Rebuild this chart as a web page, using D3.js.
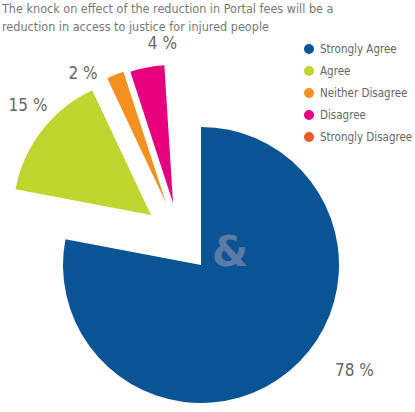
<!DOCTYPE html>
<html><head><meta charset="utf-8">
<script src="https://cdn.jsdelivr.net/npm/d3@7"></script>
<style>body{margin:0;background:#fff}</style>
</head><body><svg id="c" width="415" height="412"></svg>
<script>
const categories = ['Strongly Agree','Agree','Neither Disagree','Disagree','Strongly Disagree'];
const values = [78, 15, 2, 4, 0];
const colors = ['#0a5496','#c0d530','#f39020','#e6007e','#ea5a2a'];
const labels = ['78 %','15 %','2 %','4 %',''];
// explode offset for each slice, in px
const offsets = [[0,0],[-50,-50],[-35,-62],[-28,-62],[0,0]];
// label placement: radius and angle tweak (degrees)
const labelPos = [[186,-16],[165,4],[154,-11],[160,7]];

const svg = d3.select('#c');
const cx = 201, cy = 265, r = 138;
const font = '"DejaVu Sans Condensed", "DejaVu Sans"';

svg.append('text').attr('x',2).attr('y',13).attr('fill','#777')
  .style('font',`12.5px ${font}`).text('The knock on effect of the reduction in Portal fees will be a');
svg.append('text').attr('x',2).attr('y',31).attr('fill','#777')
  .style('font',`12.5px ${font}`).text('reduction in access to justice for injured people');

const order = [0,1,2,3];
let a = 0;
const arcs = order.map(i => {
  const s = a; a += values[i]/100*2*Math.PI;
  return {i, startAngle:s, endAngle:a};
});
const arc = d3.arc().innerRadius(0).outerRadius(r);
const g = svg.append('g').attr('transform',`translate(${cx},${cy})`);
g.selectAll('path').data(arcs).enter().append('path')
  .attr('d', arc)
  .attr('transform', d => `translate(${offsets[d.i][0]},${offsets[d.i][1]})`)
  .attr('fill', d => colors[d.i]);

const ang = d => (d.startAngle+d.endAngle)/2 + labelPos[d.i][1]*Math.PI/180;
g.selectAll('text.l').data(arcs).enter().append('text')
  .attr('text-anchor','middle')
  .attr('x', d => offsets[d.i][0] + Math.sin(ang(d))*labelPos[d.i][0])
  .attr('y', d => offsets[d.i][1] - Math.cos(ang(d))*labelPos[d.i][0] + 6)
  .attr('fill','#666').style('font',`17px ${font}`)
  .text(d => labels[d.i]);

svg.append('text').attr('x',230).attr('y',266).attr('text-anchor','middle')
  .attr('fill','#5a7aa8').style('font','bold 42px "DejaVu Sans"').text('&');

const leg = svg.selectAll('g.leg').data(categories).enter().append('g')
  .attr('transform',(d,i)=>`translate(309,${49+i*22})`);
leg.append('circle').attr('r',5).attr('fill',(d,i)=>colors[i]);
leg.append('text').attr('x',11).attr('y',4).attr('fill','#666')
  .style('font',`11.5px ${font}`).text(d=>d);
</script></body></html>
